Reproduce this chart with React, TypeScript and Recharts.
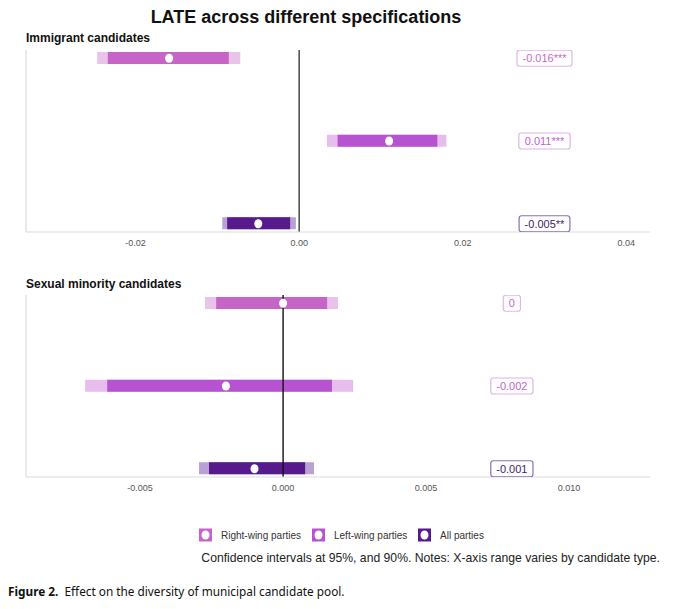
import React from 'react';
import { ComposedChart, Bar, Line, XAxis, YAxis, ReferenceLine, Cell } from 'recharts';

// rows (top to bottom) in both panels
const specs = ['Right-wing parties', 'Left-wing parties', 'All parties'];

// Immigrant candidates
const immEst = [-0.0159, 0.011, -0.005];
const immLo95 = [-0.0247, 0.0034, -0.0094];
const immHi95 = [-0.0072, 0.018, -0.0004];
const immLo90 = [-0.0234, 0.0047, -0.0088];
const immHi90 = [-0.0086, 0.0169, -0.0011];
const immLabels = ['-0.016***', '0.011***', '-0.005**'];
const immTicks = [-0.02, 0, 0.02, 0.04];

// Sexual minority candidates
const sexEst = [0, -0.002, -0.001];
const sexLo95 = [-0.00273, -0.00692, -0.00294];
const sexHi95 = [0.00192, 0.00245, 0.00108];
const sexLo90 = [-0.00234, -0.00615, -0.00259];
const sexHi90 = [0.00154, 0.00171, 0.00077];
const sexLabels = ['0', '-0.002', '-0.001'];
const sexTicks = [-0.005, 0, 0.005, 0.01];

const darkFill = ['#c764c8', '#b753d1', '#561a8c'];
const lightFill = ['#eac3eb', '#e6bdec', '#b9a2d3'];
const labelText = ['#c66bc9', '#c062d6', '#3d1b6e'];
const labelBorder = ['#e6b3e8', '#e2b2ea', '#8a72ad'];

const FONT = '"Liberation Sans", Arial, Helvetica, sans-serif';

const buildRows = (
  est: number[], lo95: number[], hi95: number[], lo90: number[], hi90: number[], labels: string[]
) =>
  specs.map((spec, i) => ({
    spec,
    row: i + 1,
    est: est[i],
    ci95: [lo95[i], hi95[i]],
    ci90: [lo90[i], hi90[i]],
    label: labels[i],
  }));

const immRows = buildRows(immEst, immLo95, immHi95, immLo90, immHi90, immLabels);
const sexRows = buildRows(sexEst, sexLo95, sexHi95, sexLo90, sexHi90, sexLabels);

// rough Arial widths at 11px
const textWidth = (s: string) =>
  s.split('').reduce((w, c) => w + (c === '-' ? 3.66 : c === '.' ? 3.06 : c === '*' ? 4.28 : 6.12), 0);

const EstDot = (props: any) => {
  const { cx, cy } = props;
  if (cx == null || cy == null) return null;
  return <ellipse cx={cx} cy={cy} rx={4} ry={4.5} fill="#fff" />;
};

const LabelBox = (props: any) => {
  const { cx, cy, index, payload } = props;
  if (cx == null || cy == null) return null;
  const w = textWidth(payload.label) + 11;
  return (
    <g>
      <rect x={cx - w / 2} y={cy - 8} width={w} height={16} rx={2.5} fill="#fff" stroke={labelBorder[index]} strokeWidth={1.2} />
      <text x={cx} y={cy + 4} textAnchor="middle" fontSize={11} fontFamily={FONT} fill={labelText[index]}>
        {payload.label}
      </text>
    </g>
  );
};

type PanelProps = {
  rows: any[];
  domain: [number, number];
  ticks: number[];
  decimals: number;
  labelX: number;
  zeroColor: string;
  top: number;
};

function Panel({ rows, domain, ticks, decimals, labelX, zeroColor, top }: PanelProps) {
  return (
    <div style={{ position: 'absolute', left: 0, top }}>
      <ComposedChart
        width={680}
        height={260}
        layout="vertical"
        data={rows}
        margin={{ top: 50, right: 30, bottom: 8, left: 25 }}
        barGap={-12}
      >
        <XAxis
          type="number"
          domain={domain}
          allowDataOverflow
          ticks={ticks}
          tickFormatter={(v: number) => v.toFixed(decimals)}
          axisLine={{ stroke: '#dcdcdc', strokeWidth: 1.2 }}
          tickLine={false}
          height={20}
          tick={{ fontSize: 9, fill: '#555', fontFamily: FONT }}
        />
        <YAxis
          type="number"
          dataKey="row"
          domain={[0.9, 3.1]}
          allowDataOverflow
          width={1}
          tick={false}
          tickLine={false}
          axisLine={{ stroke: '#dcdcdc', strokeWidth: 1.2 }}
        />
        <ReferenceLine x={0} stroke={zeroColor} strokeWidth={1.4} />
        <Bar dataKey="ci95" barSize={12} isAnimationActive={false}>
          {rows.map((r, i) => (
            <Cell key={r.spec} fill={lightFill[i]} />
          ))}
        </Bar>
        <Bar dataKey="ci90" barSize={12} isAnimationActive={false}>
          {rows.map((r, i) => (
            <Cell key={r.spec} fill={darkFill[i]} />
          ))}
        </Bar>
        <Line dataKey="est" stroke="none" dot={<EstDot />} activeDot={false} isAnimationActive={false} />
        <Line dataKey={() => labelX} stroke="none" dot={<LabelBox />} activeDot={false} isAnimationActive={false} />
      </ComposedChart>
    </div>
  );
}

function LegendRow() {
  const items = [
    { x: 199, tx: 221 },
    { x: 312, tx: 334 },
    { x: 418, tx: 440 },
  ];
  return (
    <svg width={680} height={30} style={{ position: 'absolute', left: 0, top: 520 }}>
      {specs.map((s, i) => (
        <g key={s}>
          <rect x={items[i].x} y={8.5} width={13} height={13} fill={darkFill[i]} />
          <ellipse cx={items[i].x + 6.5} cy={15} rx={4} ry={4.5} fill="#fff" />
          <text x={items[i].tx} y={18.5} fontSize={10} fontFamily={FONT} fill="#333">
            {s}
          </text>
        </g>
      ))}
    </svg>
  );
}

export default function App() {
  return (
    <div style={{ position: 'absolute', left: 0, top: 0, width: 680, height: 609, background: '#fff', fontFamily: FONT }}>
      <Panel rows={immRows} domain={[-0.0334, 0.0429]} ticks={immTicks} decimals={2} labelX={0.03} zeroColor="#3a3a3a" top={0} />
      <Panel rows={sexRows} domain={[-0.00899, 0.01283]} ticks={sexTicks} decimals={3} labelX={0.008} zeroColor="#111" top={245} />
      <div style={{ position: 'absolute', left: 0, top: 6, width: 612, textAlign: 'center', fontSize: 18, fontWeight: 'bold', lineHeight: '22px', color: '#111' }}>
        LATE across different specifications
      </div>
      <div style={{ position: 'absolute', left: 26, top: 31, fontSize: 12, fontWeight: 'bold', lineHeight: '14px', color: '#111' }}>
        Immigrant candidates
      </div>
      <div style={{ position: 'absolute', left: 26, top: 277, fontSize: 12, fontWeight: 'bold', lineHeight: '14px', color: '#111' }}>
        Sexual minority candidates
      </div>
      <LegendRow />
      <div style={{ position: 'absolute', right: 20, top: 550, fontSize: 12.2, lineHeight: '16px', color: '#222', whiteSpace: 'nowrap' }}>
        Confidence intervals at 95%, and 90%. Notes: X-axis range varies by candidate type.
      </div>
      <div style={{ position: 'absolute', left: 8, top: 583, fontSize: 11.8, lineHeight: '16px', color: '#111', fontFamily: '"Noto Sans", "Open Sans", sans-serif', whiteSpace: 'nowrap' }}>
        <b>Figure 2.</b>&nbsp; Effect on the diversity of municipal candidate pool.
      </div>
    </div>
  );
}
